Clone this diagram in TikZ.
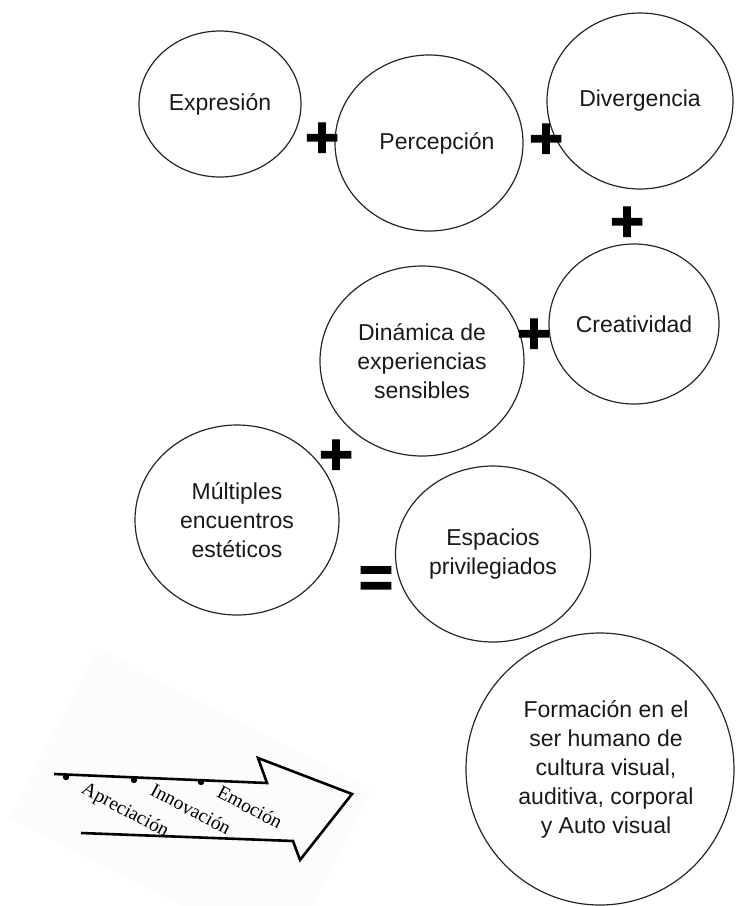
\documentclass[tikz,border=0pt]{standalone}
\usepackage{fontspec}
\setmainfont{Liberation Sans}
\newfontfamily\serifarrow{Liberation Serif}
\newfontfamily\heavysign{Liberation Sans}[BoldFont={Liberation Sans Bold},BoldFeatures={FakeBold=2.5}]
\usetikzlibrary{shapes.geometric}
\definecolor{pastebg}{gray}{0.988}
\begin{document}
\begin{tikzpicture}[x=1pt,y=-1pt,
  bubble/.style={ellipse, draw=black!85, line width=1.2pt, inner sep=0pt, align=center,
    font=\fontsize{23}{29}\selectfont, text=black!90},
  opsign/.style={font=\heavysign\bfseries\fontsize{58}{58}\selectfont, inner sep=0pt},
  arrowline/.style={line width=2.6pt, line join=miter},
  stage/.style={font=\serifarrow\fontsize{19.5}{19.5}\selectfont, rotate=-28, inner sep=0pt}
]
\useasboundingbox (0,0) rectangle (736,906);
\clip (0,0) rectangle (736,906);

% faint pasted-image background
\fill[pastebg] (97,648) -- (372,790) -- (285,960) -- (10,818) -- cycle;

% bubbles
\node[bubble, minimum width=162pt, minimum height=146pt] (expr) at (220,104) {Expresión};
\node[bubble, minimum width=188pt, minimum height=176pt] (perc) at (429,143) {\hspace*{16pt}Percepción};
\node[bubble, minimum width=186pt, minimum height=176pt] (div) at (640,101) {Divergencia};
\node[bubble, minimum width=170pt, minimum height=160pt] (crea) at (634,324) {Creatividad};
\node[bubble, minimum width=204pt, minimum height=190pt] (dina) at (422,361) {Dinámica de\\experiencias\\sensibles};
\node[bubble, minimum width=204pt, minimum height=190pt] (mult) at (237,520) {Múltiples\\encuentros\\estéticos};
\node[bubble, minimum width=195pt, minimum height=176pt] (esp) at (493,554) {Espacios\\privilegiados};
\node[bubble, minimum width=268pt, minimum height=272pt] (form) at (600,769) {\hspace*{12pt}Formación en el\\\hspace*{12pt}ser humano de\\\hspace*{12pt}cultura visual,\\\hspace*{12pt}auditiva, corporal\\\hspace*{12pt}y Auto visual};

% operators
\node[opsign] (p1) at (322,140) {+};
\node[opsign] (p2) at (546,141) {+};
\node[opsign] (p3) at (627,224) {+};
\node[opsign] (p4) at (534,336) {+};
\node[opsign] (p5) at (336,457) {+};
\node[opsign] (eq) at (376,582) {=};

% arrow
\draw[arrowline] (54,774) -- (267,783) -- (258,758) -- (352,794) -- (300,860) -- (293,841) -- (81,833);
\fill (66,777) circle (3.2);
\fill (134,780) circle (3.2);
\fill (201,782) circle (3.2);
\node[stage] (apre) at (125,811) {Apreciación};
\node[stage] (inno) at (191,809) {Innovación};
\node[stage] (emo) at (250,807) {Emoción};
\end{tikzpicture}
\end{document}
